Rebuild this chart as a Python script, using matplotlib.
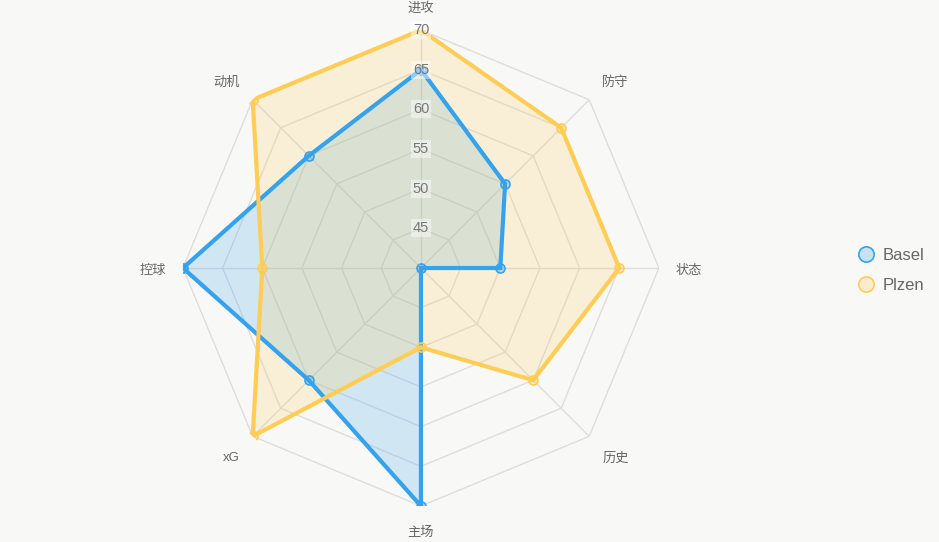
import numpy as np
import matplotlib.pyplot as plt

plt.rcParams['font.family'] = ['Liberation Sans', 'Noto Sans CJK SC', 'DejaVu Sans']

labels = ['进攻', '防守', '状态', '历史', '主场', 'xG', '控球', '动机']
basel = [65, 55, 50, 40, 70, 60, 70, 60]
plzen = [70, 65, 65, 60, 50, 70, 60, 70]
ticks = [45, 50, 55, 60, 65, 70]
rmin, rmax = 40, 70

bg = '#f8f8f6'
blue = '#36a2eb'
yellow = '#ffcd56'

fig = plt.figure(figsize=(9.39, 5.42), dpi=100, facecolor=bg)
ax = fig.add_axes([0.4483 - 0.2535, 0.5055 - 0.4391, 0.507, 0.8782], projection='polar')
ax.set_facecolor(bg)
ax.set_theta_zero_location('N')
ax.set_theta_direction(-1)
ax.set_ylim(rmin, rmax)

n = len(labels)
theta = np.linspace(0, 2 * np.pi, n, endpoint=False)
theta_c = np.append(theta, theta[0])

# octagon grid instead of circles
ax.grid(False)
ax.spines['polar'].set_visible(False)
ax.set_xticks([])
ax.set_yticks([])
for t in ticks:
    ax.plot(theta_c, [t] * (n + 1), color='#dddddd', lw=1, zorder=1)
for th in theta:
    ax.plot([th, th], [rmin, rmax], color='#dddddd', lw=1, zorder=1)

for vals, col, name in [(basel, blue, 'Basel'), (plzen, yellow, 'Plzen')]:
    v = np.append(vals, vals[0])
    ax.fill(theta_c, v, color=col, alpha=0.2, zorder=2, lw=0)
    ax.plot(theta_c, v, color=col, lw=3, zorder=3, solid_joinstyle='miter')
    ax.plot(theta, vals, 'o', ms=6.5, mfc=col + '50', mec=col, mew=1.2, zorder=4)

for t in ticks:
    ax.text(0, t, str(t), ha='center', va='center', fontsize=10.5, color='#777777', zorder=6,
            bbox=dict(fc='#ffffff', ec='none', alpha=0.45, pad=1.5))

# point labels: offset from the outer vertex, aligned like chart.js
for th, lab in zip(theta, labels):
    s, c = np.sin(th), np.cos(th)
    if abs(s) < 0.1:
        off, ha = (0, 24 * np.sign(c)), 'center'
    elif abs(c) < 0.1:
        off, ha = (16.5 * np.sign(s), 0), ('left' if s > 0 else 'right')
    else:
        off, ha = (13 * np.sign(s), 19.5 * np.sign(c)), ('left' if s > 0 else 'right')
    off = (off[0], off[1] - 2.5)
    ax.annotate(lab, xy=(th, rmax), xytext=off, textcoords='offset pixels', ha=ha, va='center',
                fontsize=9.5, color='#666666', annotation_clip=False)

# legend
lx, ly = 866 / 939, 1 - 254 / 542
for i, (col, name) in enumerate([(blue, 'Basel'), (yellow, 'Plzen')]):
    y = ly - i * 30 / 542
    fig.lines.append(plt.Line2D([lx], [y], marker='o', ms=11, mfc=col + '40', mec=col, mew=1.2,
                                transform=fig.transFigure))
    fig.text(lx + 17 / 939, y - 2 / 542, name, ha='left', va='center', fontsize=12, color='#666666')

fig.savefig('out.png', dpi=100, facecolor=bg)
